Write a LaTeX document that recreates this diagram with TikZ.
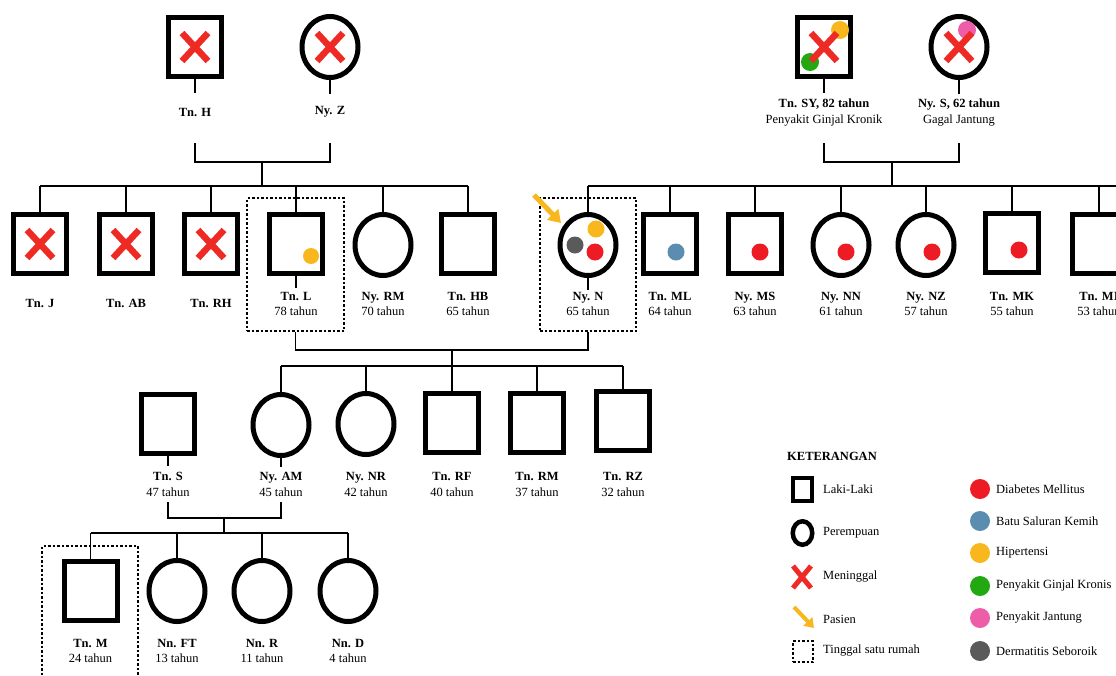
\documentclass[tikz,border=0pt]{standalone}
\usepackage{fontspec}
\setmainfont{Liberation Serif}
\usetikzlibrary{shapes.geometric,arrows.meta,calc}
\definecolor{xred}{HTML}{EE2A24}
\definecolor{dmred}{HTML}{ED1C24}
\definecolor{bsblue}{HTML}{5B8DB0}
\definecolor{hyel}{HTML}{F7B71D}
\definecolor{pgreen}{HTML}{22A811}
\definecolor{pjpink}{HTML}{EE5EA8}
\definecolor{dgray}{HTML}{5A5A5A}
\begin{document}
\begin{tikzpicture}[x=1pt,y=-1pt,
 male/.style={draw, rectangle, line width=5pt, minimum width=53pt, minimum height=59pt, inner sep=0pt},
 female/.style={draw, ellipse, line width=5pt, minimum width=56pt, minimum height=61pt, inner sep=0pt},
 conn/.style={line width=1.8pt},
 house/.style={draw, line width=1.1pt, dash pattern=on 2.5pt off 2pt, inner sep=0pt},
 lbl/.style={align=center, inner sep=1pt, font=\fontsize{12.5}{15.5}\selectfont},
 leg/.style={anchor=west, inner sep=0pt, font=\fontsize{12.5}{15}\selectfont},
 deadx/.style={xred, line width=6.5pt},
 arr/.style={hyel, line width=5pt, -{Triangle[width=15pt,length=12pt]}},
 xmark/.pic={\draw[deadx] (-13,-14) -- (13,14) (13,-14) -- (-13,14);},
]
\useasboundingbox (0,0) rectangle (1116,675);
\clip (0,0) rectangle (1116,675);

% ---------- generation I, left ----------
\node[male] (H) at (195,47) {};
\node[female] (Z) at (330,47) {};
\pic at (H.center) {xmark};
\pic at (Z.center) {xmark};
\node[lbl] (Hl) at (195,112) {\textbf{Tn. H}};
\node[lbl] (Zl) at (330,112) {\textbf{Ny. Z}};
\draw[conn] (H.south) -- ++(0,13.5);
\draw[conn] (Z.south) -- ++(0,13.5);
\coordinate (tH) at (195,143);
\coordinate (tZ) at (330,143);
\coordinate (mHZ) at (262,162);
\draw[conn] (tH) |- (mHZ) -| (tZ);
\coordinate (s1L) at (40,186);
\coordinate (s1R) at (468,186);
\draw[conn] (mHZ) -- (mHZ |- s1L);
\draw[conn] (s1L) -- (s1R);

% ---------- generation I, right ----------
\node[male] (SY) at (824,47) {};
\node[female] (S) at (959,47) {};
\fill[hyel] (840,30) circle (9pt);
\fill[pgreen] (810,62) circle (9pt);
\fill[pjpink] (967,30) circle (9pt);
\pic at (SY.center) {xmark};
\pic at (S.center) {xmark};
\node[lbl, font=\fontsize{12.5}{16.5}\selectfont] (SYl) at (824,112.5) {\textbf{Tn. SY, 82 tahun}\\Penyakit Ginjal Kronik};
\node[lbl, font=\fontsize{12.5}{16.5}\selectfont] (Sl) at (959,112.5) {\textbf{Ny. S, 62 tahun}\\Gagal Jantung};
\draw[conn] (SY.south) -- ++(0,13.5);
\draw[conn] (S.south) -- ++(0,13.5);
\coordinate (tSY) at (824,143);
\coordinate (tS) at (959,143);
\coordinate (mSS) at (892,162);
\draw[conn] (tSY) |- (mSS) -| (tS);
\coordinate (s2L) at (588,186);
\coordinate (s2R) at (1125,186);
\draw[conn] (mSS) -- (mSS |- s2L);
\draw[conn] (s2L) -- (s2R);

% ---------- generation II, left ----------
\node[male] (J) at (40,244) {};
\node[male] (AB) at (126,244) {};
\node[male] (RH) at (211,244) {};
\node[male] (L) at (296,244) {};
\node[female] (RM) at (383,245) {};
\node[male] (HB) at (468,244) {};
\pic at (J.center) {xmark};
\pic at (AB.center) {xmark};
\pic at (RH.center) {xmark};
\fill[hyel] (311,256) circle (8pt);
\foreach \n in {J,AB,RH,L,RM,HB} {\draw[conn] (\n.north) -- (\n.north |- s1L);}
\node[lbl] (Jl) at (40,303) {\textbf{Tn. J}};
\node[lbl] (ABl) at (126,303) {\textbf{Tn. AB}};
\node[lbl] (RHl) at (211,303) {\textbf{Tn. RH}};
\node[lbl] (Ll) at (296,304) {\textbf{Tn. L}\\78 tahun};
\node[lbl] (RMl) at (383,304) {\textbf{Ny. RM}\\70 tahun};
\node[lbl] (HBl) at (468,304) {\textbf{Tn. HB}\\65 tahun};
\node[house, minimum width=97pt, minimum height=133pt] (Lh) at (295.5,264.5) {};
\draw[conn] (L.south) -- ++(0,12);

% ---------- generation II, right ----------
\node[female] (N) at (588,245) {};
\node[male] (ML) at (670,244) {};
\node[male] (MS) at (755,244) {};
\node[female] (NN) at (841,245) {};
\node[female] (NZ) at (926,245) {};
\node[male] (MK) at (1012,243) {};
\node[male] (MI) at (1099,244) {};
\foreach \n in {N,ML,MS,NN,NZ,MK,MI} {\draw[conn] (\n.north) -- (\n.north |- s2L);}
\fill[hyel] (596,229) circle (8.5pt);
\fill[dgray] (575,245) circle (8.5pt);
\fill[dmred] (595,252) circle (8.5pt);
\fill[bsblue] (676,252) circle (8.5pt);
\fill[dmred] (760,252) circle (8.5pt);
\fill[dmred] (846,252) circle (8.5pt);
\fill[dmred] (932,252) circle (8.5pt);
\fill[dmred] (1019,250) circle (8.5pt);
\node[lbl] (Nl) at (588,304) {\textbf{Ny. N}\\65 tahun};
\node[lbl] (MLl) at (670,304) {\textbf{Tn. ML}\\64 tahun};
\node[lbl] (MSl) at (755,304) {\textbf{Ny. MS}\\63 tahun};
\node[lbl] (NNl) at (841,304) {\textbf{Ny. NN}\\61 tahun};
\node[lbl] (NZl) at (926,304) {\textbf{Ny. NZ}\\57 tahun};
\node[lbl] (MKl) at (1012,304) {\textbf{Tn. MK}\\55 tahun};
\node[lbl] (MIl) at (1099,304) {\textbf{Tn. MI}\\53 tahun};
\node[house, minimum width=96pt, minimum height=133pt] (Nh) at (588,264.5) {};
\draw[conn] (N.south) -- ++(0,12);
\coordinate (pA) at (534,195);
\coordinate (pB) at (561,223);
\draw[arr] (pA) -- (pB);

% ---------- marriage L & N ----------
\coordinate (mLN) at (452,350);
\draw[conn] (Lh.south) |- (mLN) -| (Nh.south);
\coordinate (s3L) at (281,366);
\coordinate (s3R) at (623,366);
\draw[conn] (mLN) -- (mLN |- s3L);
\draw[conn] (s3L) -- (s3R);

% ---------- generation III ----------
\node[male] (TS) at (168,424) {};
\node[female] (AM) at (281,425) {};
\node[female] (NR) at (366,424) {};
\node[male] (RF) at (452,423) {};
\node[male] (RMb) at (537,423) {};
\node[male] (RZ) at (623,421) {};
\foreach \n in {AM,NR,RF,RMb,RZ} {\draw[conn] (\n.north) -- (\n.north |- s3L);}
\node[lbl] (TSl) at (168,484.5) {\textbf{Tn. S}\\47 tahun};
\node[lbl] (AMl) at (281,484.5) {\textbf{Ny. AM}\\45 tahun};
\node[lbl] (NRl) at (366,484.5) {\textbf{Ny. NR}\\42 tahun};
\node[lbl] (RFl) at (452,484.5) {\textbf{Tn. RF}\\40 tahun};
\node[lbl] (RMbl) at (537,484.5) {\textbf{Tn. RM}\\37 tahun};
\node[lbl] (RZl) at (623,484.5) {\textbf{Tn. RZ}\\32 tahun};
\draw[conn] (TS.south) -- ++(0,10);
\draw[conn] (AM.south) -- ++(0,9);
\coordinate (tTS) at (168,502);
\coordinate (tAM) at (281,502);
\coordinate (mSA) at (224,518);
\draw[conn] (tTS) |- (mSA) -| (tAM);
\coordinate (s4L) at (90.5,533);
\coordinate (s4R) at (348,533);
\draw[conn] (mSA) -- (mSA |- s4L);
\draw[conn] (s4L) -- (s4R);

% ---------- generation IV ----------
\node[male] (M) at (90.5,591) {};
\node[female] (FT) at (177,591) {};
\node[female] (R) at (262,591) {};
\node[female] (D) at (348,591) {};
\foreach \n in {M,FT,R,D} {\draw[conn] (\n.north) -- (\n.north |- s4L);}
\node[lbl] (Ml) at (90.5,651) {\textbf{Tn. M}\\24 tahun};
\node[lbl] (FTl) at (177,651) {\textbf{Nn. FT}\\13 tahun};
\node[lbl] (Rl) at (262,651) {\textbf{Nn. R}\\11 tahun};
\node[lbl] (Dl) at (348,651) {\textbf{Nn. D}\\4 tahun};
\node[house, minimum width=96pt, minimum height=154pt] (Mh) at (90,623) {};

% ---------- legend ----------
\node[leg] (kt) at (787,456) {\textbf{KETERANGAN}};
\node[draw, rectangle, line width=4pt, minimum width=19pt, minimum height=23pt, inner sep=0pt] (lgM) at (802,489) {};
\node[leg] (lgMt) at (823,489) {Laki-Laki};
\node[draw, ellipse, line width=4.5pt, minimum width=19.5pt, minimum height=23.5pt, inner sep=0pt] (lgF) at (802.5,533) {};
\node[leg] (lgFt) at (823,533) {Perempuan};
\draw[xred, line width=5pt] (793,566) -- (811,588) (811,566) -- (793,588);
\node[leg] (lgXt) at (823,577) {Meninggal};
\coordinate (lgA1) at (794,607);
\coordinate (lgA2) at (814,628);
\draw[hyel, line width=4pt, -{Triangle[width=12pt,length=9pt]}] (lgA1) -- (lgA2);
\node[leg] (lgAt) at (823,619) {Pasien};
\node[house, minimum width=20pt, minimum height=21pt] (lgH) at (803,651.5) {};
\node[leg] (lgHt) at (823,651) {Tinggal satu rumah};

\fill[dmred] (980,489) circle (10pt);
\node[leg] (d1) at (996,489) {Diabetes Mellitus};
\fill[bsblue] (980,521) circle (10pt);
\node[leg] (d2) at (996,521) {Batu Saluran Kemih};
\fill[hyel] (980,553) circle (10pt);
\node[leg] (d3) at (996,553) {Hipertensi};
\fill[pgreen] (980,586) circle (10pt);
\node[leg] (d4) at (996,586) {Penyakit Ginjal Kronis};
\fill[pjpink] (980,618) circle (10pt);
\node[leg] (d5) at (996,618) {Penyakit Jantung};
\fill[dgray] (980,651) circle (10pt);
\node[leg] (d6) at (996,651) {Dermatitis Seboroik};
\end{tikzpicture}
\end{document}
